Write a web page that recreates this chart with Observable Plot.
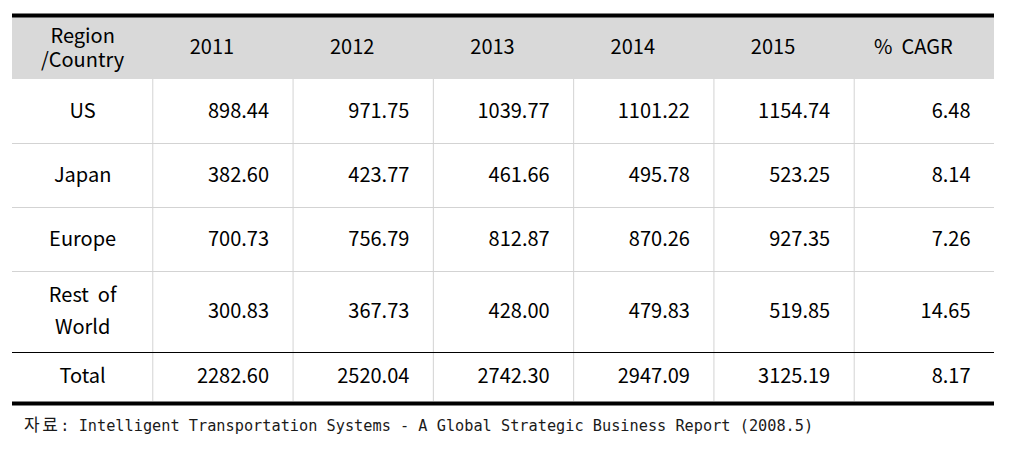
<!DOCTYPE html>
<html>
<head>
<meta charset="utf-8">
<script src="https://cdn.jsdelivr.net/npm/d3@7"></script>
<script src="https://cdn.jsdelivr.net/npm/@observablehq/plot@0.6"></script>
<style>
  html, body { margin: 0; padding: 0; background: #fff; }
  #chart svg text { white-space: pre; }
  .cap { height: 28px; line-height: 28px; padding-left: 24px; font-family: "DejaVu Sans Mono", monospace; font-size: 15.25px; color: #1a1a1a; white-space: pre; }
  .cap .ko { font-family: "Noto Sans CJK KR", sans-serif; font-size: 17px; letter-spacing: 2.5px; }
</style>
</head>
<body>
<div id="chart"></div>
<div class="cap"><span class="ko">자료</span>: Intelligent Transportation Systems - A Global Strategic Business Report (2008.5)</div>
<script>
// ---- data ----
const headers = ["Region\n/Country", "2011", "2012", "2013", "2014", "2015", "%  CAGR"];
const regions = ["US", "Japan", "Europe", "Rest  of\nWorld", "Total"];
const v2011 = [898.44, 382.60, 700.73, 300.83, 2282.60];
const v2012 = [971.75, 423.77, 756.79, 367.73, 2520.04];
const v2013 = [1039.77, 461.66, 812.87, 428.00, 2742.30];
const v2014 = [1101.22, 495.78, 870.26, 479.83, 2947.09];
const v2015 = [1154.74, 523.25, 927.35, 519.85, 3125.19];
const cagr  = [6.48, 8.14, 7.26, 14.65, 8.17];

// ---- layout (row heights in y-scale units: header, then each region row) ----
const rowUnits = [62, 64, 64, 64, 81, 49];
const bounds = [0];
rowUnits.forEach(h => bounds.push(bounds[bounds.length - 1] + h));
const total = bounds[bounds.length - 1];
const nCols = headers.length;

const series = [v2011, v2012, v2013, v2014, v2015, cagr];
const cells = [];
regions.forEach((r, ri) => {
  series.forEach((s, ci) => {
    cells.push({col: ci + 1, row: ri + 1, text: s[ri].toFixed(2)});
  });
});
const rowLabels = regions.map((r, i) => ({row: i + 1, text: r}));
const headerCells = headers.map((h, i) => ({col: i, text: h}));
const rowMid = r => (bounds[r] + bounds[r + 1]) / 2;
const isMulti = d => d.text.includes("\n");

const grayLines = [2, 3, 4]; // boundaries between body rows
const colLines = d3.range(1, nCols);

const plot = Plot.plot({
  width: 1029,
  height: 410,
  margin: 0,
  x: {domain: [0, nCols], range: [12, 994], axis: null},
  y: {domain: [0, total], range: [17, 401], axis: null},
  style: {fontFamily: "'Noto Sans CJK KR', 'Noto Sans', sans-serif", fontSize: "20px", color: "#000", background: "#fff"},
  marks: [
    Plot.rect([0], {x1: 0, x2: nCols, y1: bounds[0], y2: bounds[1], fill: "#d9d9d9"}),
    Plot.ruleY(grayLines, {y: d => bounds[d], x1: 0, x2: nCols, stroke: "#d3d3d3", strokeWidth: 1}),
    Plot.ruleX(colLines, {x: d => d, y1: bounds[1], y2: total, stroke: "#d3d3d3", strokeWidth: 1}),
    Plot.ruleY([bounds[5]], {y: d => d, x1: 0, x2: nCols, stroke: "#000", strokeWidth: 1}),
    Plot.ruleY([0], {y: d => d, x1: 0, x2: nCols, stroke: "#000", strokeWidth: 4, dy: -2}),
    Plot.ruleY([total], {y: d => d, x1: 0, x2: nCols, stroke: "#000", strokeWidth: 4, dy: 2}),
    // header text
    Plot.text(headerCells.filter(d => d.col === 0), {x: d => d.col + 0.5, y: rowMid(0), text: "text", lineHeight: 1.2, dy: -1.5, fontSize: 20, fill: "#000"}),
    Plot.text(headerCells.filter(d => d.col > 0), {x: d => d.col + 0.5, y: rowMid(0), text: "text", dx: -11, dy: -1, fontSize: 20, fill: "#000"}),
    // row labels
    Plot.text(rowLabels.filter(d => !isMulti(d)), {x: 0.5, y: d => rowMid(d.row), text: "text", fontSize: 20, fill: "#000"}),
    Plot.text(rowLabels.filter(isMulti), {x: 0.5, y: d => rowMid(d.row), text: "text", lineHeight: 1.6, dy: -4, fontSize: 20, fill: "#000"}),
    // values
    Plot.text(cells, {x: d => d.col + 1, y: d => rowMid(d.row), text: "text", textAnchor: "end", dx: -24, fontSize: 20, fill: "#000"})
  ]
});
document.getElementById("chart").append(plot);
</script>
</body>
</html>
